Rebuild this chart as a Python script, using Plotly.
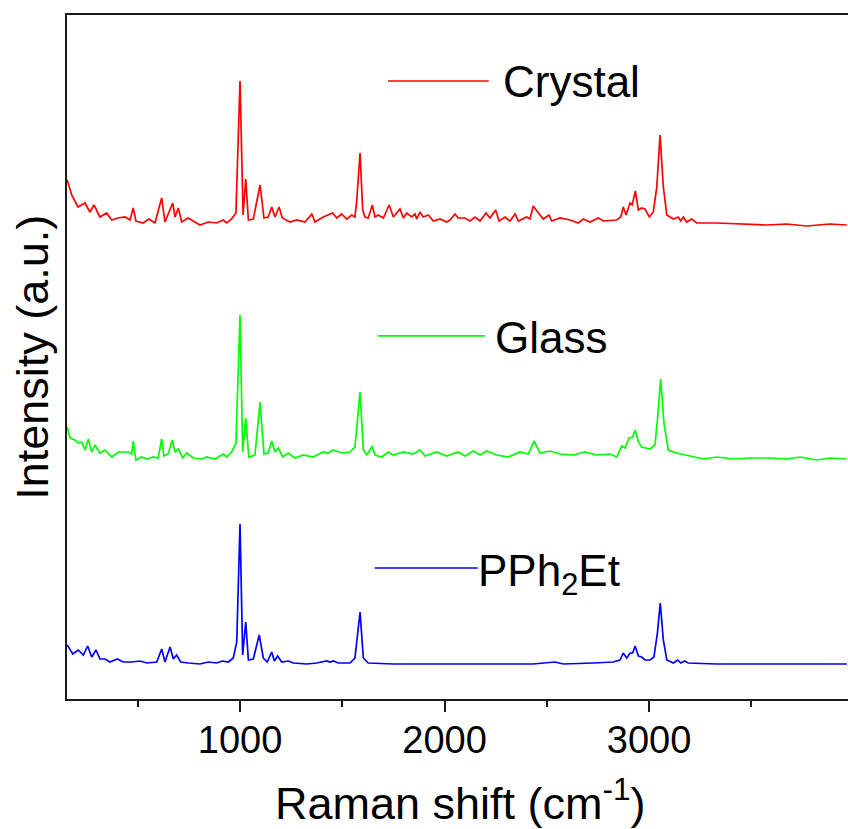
import plotly.graph_objects as go

# ---------------- data ----------------
crystal_x = [155, 177, 208, 242, 266, 286, 315, 348, 373, 403, 438, 462, 478, 491, 526, 555, 584, 617, 633,
             671, 682, 698, 715, 747, 804, 845, 886, 918, 935, 959, 980, 1000, 1015, 1028, 1041, 1065, 1098,
             1117, 1138, 1155, 1171, 1191, 1207, 1245, 1277, 1318, 1351, 1367, 1407, 1453, 1473, 1497, 1522,
             1546, 1562, 1571, 1587, 1600, 1611, 1627, 1647, 1660, 1676, 1701, 1729, 1750, 1782, 1799, 1815,
             1840, 1856, 1864, 1880, 1896, 1921, 1945, 1978, 2011, 2027, 2051, 2067, 2100, 2125, 2149, 2174,
             2203, 2222, 2250, 2267, 2296, 2320, 2345, 2361, 2402, 2418, 2434, 2459, 2483, 2511, 2524, 2565,
             2614, 2654, 2679, 2712, 2752, 2777, 2842, 2862, 2874, 2888, 2907, 2918, 2933, 2948, 2964, 2980,
             3002, 3021, 3038, 3054, 3070, 3087, 3119, 3143, 3155, 3168, 3184, 3209, 3233, 3331, 3445, 3576,
             3673, 3771, 3885, 3967]
crystal_y = [519, 504, 492, 496, 487, 494, 482, 486, 479, 481, 482, 479, 491, 478, 476, 480, 476, 501, 477,
             496, 482, 491, 477, 481, 474, 477, 476, 479, 476, 480, 486, 618, 484, 520, 479, 480, 514,
             481, 482, 492, 482, 492, 481, 477, 479, 477, 485, 477, 482, 486, 481, 485, 480,
             484, 482, 499, 546, 489, 482, 481, 494, 482, 484, 481, 494, 482, 490, 481, 486,
             482, 485, 480, 487, 482, 484, 478, 480, 477, 479, 485, 481, 481, 478, 482, 478,
             486, 481, 489, 478, 482, 478, 485, 478, 482, 480, 493, 486, 480, 484, 478, 481,
             479, 476, 480, 477, 481, 478, 479, 482, 492, 484, 496, 494, 508, 489, 491, 490,
             482, 487, 512, 564, 512, 484, 480, 482, 478, 482, 477, 480, 476, 476, 475, 474,
             475, 473, 475, 474]

glass_x = [155, 169, 193, 209, 226, 242, 258, 275, 291, 315, 340, 373, 405, 454, 470, 478, 491, 519, 544,
           576, 600, 617, 628, 649, 669, 682, 698, 720, 739, 772, 813, 837, 878, 918, 935, 959, 980, 1000,
           1013, 1028, 1043, 1073, 1098, 1117, 1138, 1155, 1171, 1187, 1209, 1236, 1269, 1310, 1358, 1407,
           1432, 1456, 1497, 1538, 1562, 1587, 1603, 1620, 1647, 1660, 1693, 1725, 1750, 1799, 1847, 1880,
           1905, 1962, 2011, 2027, 2067, 2100, 2141, 2174, 2206, 2255, 2312, 2369, 2410, 2438, 2467, 2516,
           2565, 2630, 2687, 2744, 2809, 2842, 2867, 2883, 2902, 2920, 2932, 2948, 2964, 3005, 3029, 3041,
           3057, 3073, 3094, 3135, 3184, 3233, 3266, 3331, 3412, 3494, 3592, 3673, 3738, 3820, 3885, 3967]
glass_y = [272, 261, 259, 256, 257, 249, 260, 247, 254, 246, 249, 242, 247, 247, 245, 258, 239, 242, 240,
           242, 241, 260, 243, 245, 259, 247, 250, 241, 246, 241, 240, 242, 240, 245, 242, 247, 256, 384,
           247, 281, 242, 244, 297, 245, 246, 258, 247, 251, 242, 246, 241, 244, 242, 247,
           246, 249, 246, 247, 252, 307, 249, 244, 253, 244, 242, 247, 244, 247, 245, 249,
           243, 247, 243, 244, 247, 243, 248, 244, 248, 244, 242, 247, 245, 258, 246, 248,
           245, 244, 247, 244, 245, 242, 253, 251, 261, 262, 269, 257, 252, 250, 254, 279,
           320, 276, 249, 246, 244, 242, 240, 242, 240, 241, 241, 240, 242, 239, 241, 240]

pph2et_x = [155, 182, 209, 234, 255, 275, 296, 315, 340, 364, 400, 429, 470, 511, 544, 593, 617, 633, 658,
            674, 690, 710, 747, 804, 845, 886, 913, 943, 967, 984, 1000, 1013, 1028, 1041, 1065, 1094, 1114,
            1133, 1155, 1168, 1184, 1204, 1236, 1261, 1326, 1375, 1424, 1440, 1456, 1481, 1538, 1562, 1587,
            1603, 1627, 1750, 1913, 2059, 2190, 2433, 2540, 2581, 2728, 2825, 2858, 2874, 2891, 2907, 2920,
            2932, 2948, 2964, 2980, 3005, 3024, 3041, 3055, 3070, 3087, 3119, 3140, 3155, 3173, 3192, 3331,
            3657, 3967]
pph2et_y = [54, 45, 49, 44, 53, 42, 49, 40, 40, 37, 40, 37, 37, 38, 36, 37, 50, 37, 52,
            40, 44, 37, 36, 35, 37, 36, 38, 37, 41, 57, 175, 44, 77, 39, 40, 64, 41,
            37, 47, 38, 43, 37, 38, 36, 35, 36, 38, 37, 38, 36, 36, 41, 87,
            41, 36, 35, 35, 35, 35, 35, 37, 35, 36, 37, 39, 46, 41, 46, 46,
            53, 43, 42, 39, 39, 42, 66, 96, 59, 39, 36, 39, 36, 38, 36, 35,
            35, 35]

series_names = ["Crystal", "Glass", "PPh<sub>2</sub>Et"]
series_colors = ["#FF0000", "#00FF00", "#0000FF"]
x_tick_vals = [1000, 2000, 3000]
x_tick_text = ["1000", "2000", "3000"]
x_minor_vals = [500, 1500, 2500, 3500]

FONT = "Liberation Sans, Arial, sans-serif"

fig = go.Figure()
for xs, ys, nm, col in zip([crystal_x, glass_x, pph2et_x], [crystal_y, glass_y, pph2et_y],
                           series_names, series_colors):
    fig.add_trace(go.Scatter(x=xs, y=ys, mode="lines", name=nm, showlegend=False,
                             line=dict(color=col, width=1.7)))

W, H = 848, 829
L, T, R, B = 67, 15, 0, 130

fig.update_layout(
    width=W, height=H,
    margin=dict(l=L, r=R, t=T, b=B, pad=0),
    paper_bgcolor="white", plot_bgcolor="white",
    font=dict(family=FONT, color="black"),
    xaxis=dict(range=[154, 3973], showline=True, linecolor="#1a1a1a", linewidth=2, mirror=True,
               ticks="outside", ticklen=11, tickwidth=2, tickcolor="#1a1a1a",
               tickvals=x_tick_vals, ticktext=x_tick_text, ticklabelstandoff=-5,
               tickfont=dict(size=38, family=FONT, color="black"),
               minor=dict(ticks="outside", ticklen=6, tickwidth=2, tickcolor="#1a1a1a",
                          tickvals=x_minor_vals),
               showgrid=False, zeroline=False),
    yaxis=dict(range=[0, 684], showline=True, linecolor="#1a1a1a", linewidth=2, mirror=False,
               ticks="", showticklabels=False, showgrid=False, zeroline=False),
)

# axis titles
fig.add_annotation(text="Raman shift (cm<sup>-1</sup>)", xref="paper", yref="paper",
                   x=0.504, y=-0.148, xanchor="center", yanchor="middle", showarrow=False,
                   font=dict(size=45, family=FONT, color="black"))
fig.add_annotation(text="Intensity (a.u.)", xref="paper", yref="paper",
                   x=-0.045, y=0.5, xanchor="center", yanchor="middle", textangle=-90, showarrow=False,
                   font=dict(size=45, family=FONT, color="black"))

# in-plot labels (legend-like)
leg = [
    (series_names[0], series_colors[0], 0.411, 0.540, 0.9035, 0.556, 0.903),
    (series_names[1], series_colors[1], 0.398, 0.535, 0.531, 0.546, 0.529),
    (series_names[2], series_colors[2], 0.394, 0.526, 0.1915, 0.524, 0.183),
]
for nm, col, x0, x1, yl, xt, yt in leg:
    fig.add_shape(type="line", xref="paper", yref="paper", x0=x0, x1=x1, y0=yl, y1=yl,
                  line=dict(color=col, width=1.7))
    fig.add_annotation(text=nm, xref="paper", yref="paper", x=xt, y=yt, xanchor="left",
                       yanchor="middle", showarrow=False,
                       font=dict(size=44, family=FONT, color="black"))

fig.write_html("out.html", config={"displayModeBar": False},
               post_script="document.body.style.margin='0';document.body.style.overflow='hidden';")
